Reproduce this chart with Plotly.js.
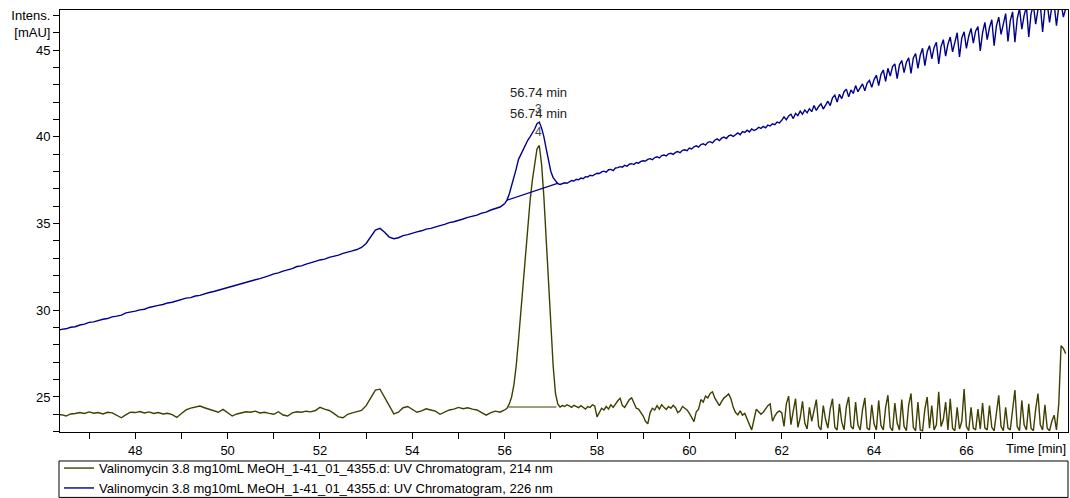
<!DOCTYPE html>
<html>
<head>
<meta charset="utf-8">
<script src="https://cdn.plot.ly/plotly-3.0.1.min.js"></script>
<style>html,body{margin:0;padding:0;background:#fff;}#chart{width:1070px;height:498px;}</style>
</head>
<body>
<div id="chart"></div>
<script>
// Sampling of the two segments (minutes)
const seg1Start = 46.3, seg1Step = 0.1;   // 46.3 .. 56.0
const seg2Start = 56.0, seg2Step = 0.05;  // 56.0 .. 68.15

// 226 nm (blue) intensities, mAU
const blue226_seg1 = [
28.82,28.90,28.93,29.02,29.05,29.15,29.20,29.30,29.33,29.42,29.48,29.52,29.62,29.66,29.72,29.85,29.88,29.95,30.02,30.06,
30.16,30.20,30.28,30.33,30.42,30.46,30.55,30.60,30.70,30.73,30.82,30.86,30.95,31.02,31.08,31.16,31.22,31.30,31.36,31.45,
31.52,31.60,31.68,31.76,31.82,31.93,32.00,32.10,32.15,32.26,32.32,32.40,32.52,32.56,32.66,32.72,32.82,32.90,32.95,33.05,
33.10,33.18,33.28,33.33,33.42,33.50,33.62,33.85,34.25,34.62,34.72,34.50,34.22,34.12,34.18,34.30,34.36,34.45,34.52,34.58,
34.68,34.72,34.82,34.88,34.95,35.05,35.10,35.20,35.26,35.35,35.42,35.48,35.60,35.66,35.78,35.85,35.95,36.15];
const blue226_seg2 = [
36.15,36.35,36.70,37.15,37.65,38.15,38.70,39.00,39.30,39.55,39.80,40.00,40.20,40.45,40.75,40.85,40.50,40.00,39.30,38.60,
38.00,37.65,37.45,37.30,37.25,37.30,37.35,37.32,37.42,37.48,37.45,37.55,37.52,37.62,37.58,37.70,37.68,37.78,37.75,37.85,
37.90,37.88,37.98,38.02,37.96,38.10,38.12,38.05,38.20,38.22,38.28,38.25,38.36,38.30,38.42,38.45,38.40,38.52,38.48,38.58,
38.62,38.60,38.70,38.74,38.68,38.80,38.85,38.78,38.92,38.95,38.90,39.02,39.05,38.98,39.10,39.15,39.08,39.22,39.25,39.20,
39.35,39.30,39.42,39.48,39.40,39.55,39.60,39.52,39.68,39.72,39.65,39.80,39.88,39.78,39.92,39.98,39.90,40.05,40.10,40.02,
40.15,40.22,40.12,40.30,40.25,40.38,40.28,40.45,40.36,40.42,40.55,40.48,40.60,40.52,40.68,40.62,40.75,40.70,40.85,40.80,
40.95,41.15,40.98,41.20,41.30,41.05,41.35,41.22,41.48,41.30,41.55,41.38,41.62,41.45,41.80,41.52,41.75,41.90,41.60,41.85,
42.05,41.80,42.25,42.40,42.00,42.45,42.20,42.60,42.75,42.30,42.70,42.50,42.95,42.60,42.85,43.05,42.65,43.10,43.25,42.85,
43.30,43.55,42.95,43.60,43.85,43.20,43.95,43.50,44.05,44.20,43.35,44.15,44.40,43.70,44.30,44.55,43.65,44.55,44.80,43.95,
44.70,45.10,44.10,44.90,45.25,44.50,45.15,45.45,44.20,45.20,45.60,44.65,45.35,45.75,44.90,45.55,46.00,44.60,45.70,46.05,
45.10,45.80,46.25,45.40,46.10,46.35,44.95,46.00,46.60,45.60,46.30,46.75,45.25,46.40,46.90,45.90,46.60,47.10,45.50,46.70,
47.20,45.45,46.80,47.40,46.20,47.00,47.50,45.75,47.10,47.60,46.50,47.35,47.60,46.05,47.40,47.70,46.60,47.50,47.65,46.40,
47.50,47.70,46.90,47.40];

// 214 nm (olive) intensities, mAU
const olive214_seg1 = [
23.95,23.98,23.90,24.02,24.05,24.10,24.05,24.14,24.06,24.10,24.02,24.12,24.08,23.95,23.80,23.98,24.12,24.10,24.16,24.08,
24.14,24.05,24.10,24.02,24.06,23.98,23.82,24.05,24.25,24.36,24.40,24.48,24.38,24.30,24.20,24.12,24.28,24.10,23.90,24.02,
24.10,24.15,24.12,24.18,24.08,24.12,24.05,24.00,24.15,23.96,23.90,24.08,24.15,24.12,24.18,24.14,24.22,24.40,24.30,24.22,
24.05,23.85,23.80,24.00,24.08,24.15,24.22,24.50,24.95,25.40,25.45,24.95,24.45,24.02,24.12,24.38,24.45,24.28,24.12,24.20,
24.32,24.25,24.18,24.00,24.15,24.25,24.30,24.40,24.32,24.38,24.30,24.25,24.10,23.95,24.10,24.18,24.12,24.25];
const olive214_seg2 = [
24.25,24.35,24.60,25.00,25.70,26.80,28.30,29.90,31.60,33.30,34.90,36.30,37.50,38.50,39.30,39.50,38.40,36.50,34.00,31.20,
28.90,26.80,25.20,24.60,24.42,24.50,24.45,24.55,24.48,24.40,24.52,24.45,24.38,24.50,24.42,24.30,24.45,24.40,24.55,24.48,
23.85,24.10,24.35,24.25,24.45,24.30,24.55,24.40,24.62,24.78,24.92,24.50,24.40,24.65,24.85,24.95,24.60,24.35,24.30,24.10,
23.90,23.60,23.45,24.10,24.35,24.25,24.50,24.30,24.55,24.40,24.28,24.45,24.35,24.52,24.38,24.10,24.20,24.45,24.35,24.25,
24.05,23.80,23.58,24.15,24.30,24.85,24.70,25.05,24.95,25.20,25.30,24.95,24.70,24.50,24.75,24.95,25.05,25.18,24.90,24.40,
24.10,23.97,24.20,23.95,24.05,23.75,23.40,23.10,23.70,24.30,24.15,24.00,24.12,24.35,24.50,24.60,23.60,23.90,24.10,24.20,
24.10,23.30,24.60,25.05,23.40,24.20,24.90,23.25,23.80,24.75,23.50,23.15,24.40,23.60,24.20,24.85,23.30,23.10,24.50,23.70,
23.20,24.30,24.90,23.25,23.10,24.60,23.55,23.10,24.45,25.00,23.30,23.15,24.70,23.40,23.10,24.25,24.95,23.20,23.10,24.55,
23.45,23.10,24.80,23.35,23.10,24.40,25.10,23.25,23.05,24.65,23.50,23.10,24.85,23.30,23.05,24.55,25.20,23.25,23.05,24.70,
23.10,23.05,24.30,25.00,23.20,24.50,23.10,23.40,25.30,23.30,23.70,24.70,23.10,24.90,23.20,23.05,24.40,23.15,23.60,25.45,
23.30,23.05,24.40,23.20,23.10,24.30,23.15,24.65,23.20,23.10,24.50,23.25,23.05,24.10,25.10,23.30,23.05,24.40,23.20,23.10,
24.20,25.40,23.30,23.05,24.80,23.40,23.10,24.60,23.20,23.05,24.30,25.20,23.40,23.10,24.55,23.20,23.05,23.60,23.95,23.10,
24.60,27.95,27.80,27.50];

// Integration baselines under the peak
const blueBaseT = [56.05, 57.16], blueBaseV = [36.35, 37.33];
const oliveBaseT = [56.08, 57.12], oliveBaseV = [24.42, 24.42];

// Peak labels
const peakTime = 56.74;
const peakLabels = ["56.74 min", "56.74 min"];
const peakLabelY = [42.58, 41.37];
const peakNumbers = ["3", "4"];
const peakNumberY = [41.6, 40.3];

// Tick labels
const xTickVals = [47,48,49,50,51,52,53,54,55,56,57,58,59,60,61,62,63,64,65,66,67,68];
const xTickText = ["","48","","50","","52","","54","","56","","58","","60","","62","","64","","66","",""];
const yTickVals = [23,24,25,26,27,28,29,30,31,32,33,34,35,36,37,38,39,40,41,42,43,44,45,46,47];
const yTickText = ["","","25","","","","","30","","","","","35","","","","","40","","","","","45","[mAU]","Intens."];

const names = [
  "Valinomycin 3.8 mg10mL MeOH_1-41_01_4355.d: UV Chromatogram, 214 nm",
  "Valinomycin 3.8 mg10mL MeOH_1-41_01_4355.d: UV Chromatogram, 226 nm"
];
const oliveColor = "#3f3f00", blueColor = "#00008c";

const traces = [
  {y: olive214_seg1, x0: seg1Start, dx: seg1Step, type: "scatter", mode: "lines", name: names[0],
   legendgroup: "o", line: {color: oliveColor, width: 1.4}},
  {y: olive214_seg2, x0: seg2Start, dx: seg2Step, type: "scatter", mode: "lines", name: names[0],
   legendgroup: "o", showlegend: false, line: {color: oliveColor, width: 1.4}},
  {x: oliveBaseT, y: oliveBaseV, type: "scatter", mode: "lines", showlegend: false,
   line: {color: oliveColor, width: 1.2}},
  {y: blue226_seg1, x0: seg1Start, dx: seg1Step, type: "scatter", mode: "lines", name: names[1],
   legendgroup: "b", line: {color: blueColor, width: 1.4}},
  {y: blue226_seg2, x0: seg2Start, dx: seg2Step, type: "scatter", mode: "lines", name: names[1],
   legendgroup: "b", showlegend: false, line: {color: blueColor, width: 1.4}},
  {x: blueBaseT, y: blueBaseV, type: "scatter", mode: "lines", showlegend: false,
   line: {color: blueColor, width: 1.2}}
];

const annotations = [];
peakLabels.forEach((t, i) => annotations.push({x: peakTime, y: peakLabelY[i], xref: "x", yref: "y",
  text: t, showarrow: false, font: {size: 13, color: "#222"}, xanchor: "center", yanchor: "middle"}));
peakNumbers.forEach((t, i) => annotations.push({x: peakTime, y: peakNumberY[i], xref: "x", yref: "y",
  text: t, showarrow: false, font: {size: 12, color: "#444"}, xanchor: "center", yanchor: "middle"}));
annotations.push({x: 1, y: -0.038, xref: "paper", yref: "paper", text: "Time [min]", showarrow: false,
  xanchor: "right", yanchor: "middle", font: {size: 13, color: "#000"}});

const layout = {
  width: 1070, height: 498,
  margin: {l: 60, r: 2, t: 10, b: 66, autoexpand: false},
  paper_bgcolor: "#fff", plot_bgcolor: "#fff",
  font: {family: "Liberation Sans, Arial, sans-serif", size: 13, color: "#000"},
  showlegend: true,
  legend: {x: -0.001, xanchor: "left", y: -0.050, yanchor: "top", bgcolor: "rgba(0,0,0,0)",
    font: {size: 13, color: "#000"}, tracegroupgap: 0, itemwidth: 30},
  xaxis: {range: [46.37, 68.2], tickmode: "array", tickvals: xTickVals, ticktext: xTickText,
    ticks: "outside", ticklen: 6, tickcolor: "#000", showline: true, linecolor: "#000", linewidth: 1,
    mirror: true, showgrid: false, zeroline: false, tickfont: {size: 13}},
  yaxis: {range: [22.98, 47.31], tickmode: "array", tickvals: yTickVals, ticktext: yTickText,
    ticks: "outside", ticklen: 6, tickcolor: "#000", showline: true, linecolor: "#000", linewidth: 1,
    mirror: true, showgrid: false, zeroline: false, tickfont: {size: 13}},
  annotations: annotations,
  shapes: [{type: "rect", xref: "paper", yref: "paper", x0: -0.001, x1: 1.0, y0: -0.0687, y1: -0.155,
    line: {color: "#000", width: 1}, fillcolor: "rgba(0,0,0,0)"}]
};

Plotly.newPlot("chart", traces, layout, {displayModeBar: false, staticPlot: true});
</script>
</body>
</html>
